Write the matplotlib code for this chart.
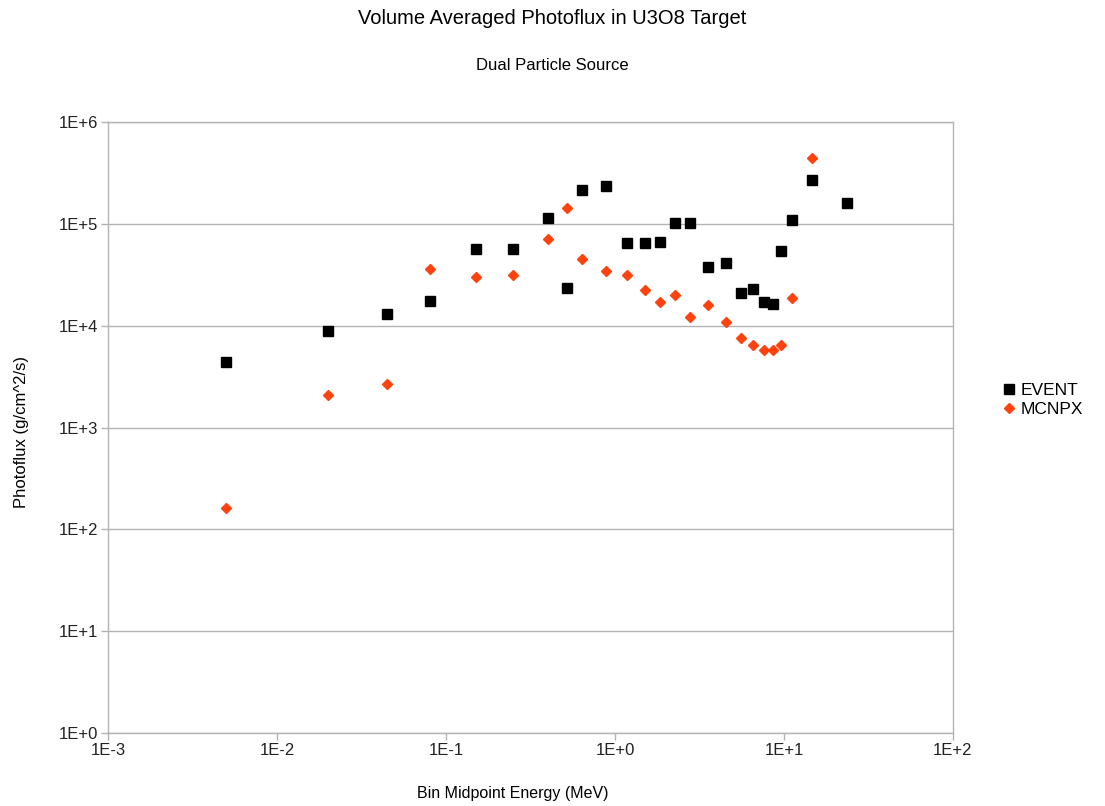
import matplotlib
matplotlib.use("Agg")
import matplotlib.pyplot as plt
from matplotlib.ticker import FixedLocator, FuncFormatter, NullLocator
import numpy as np

plt.rcParams['font.family'] = ['Liberation Sans', 'DejaVu Sans']

# bin midpoint energies (MeV)
event_energy = [0.005, 0.02, 0.045, 0.08, 0.15, 0.25, 0.4, 0.52, 0.64, 0.885,
                1.17, 1.51, 1.85, 2.27, 2.78, 3.53, 4.54, 5.54, 6.56, 7.58,
                8.57, 9.6, 11.1, 14.6, 23.7]
event_flux = [4400, 8800, 13100, 17500, 56900, 56900, 113000, 23700, 213000, 237000,
              64200, 64200, 66100, 102500, 102500, 37900, 41700, 20800, 22800, 17100,
              16200, 53500, 108000, 271000, 161000]

mcnpx_energy = event_energy[:24]
mcnpx_flux = [163, 2070, 2680, 36200, 30200, 31300, 70700, 142700, 44700, 34300,
              31600, 22300, 16900, 19900, 12100, 16100, 10900, 7590, 6470, 5820,
              5820, 6470, 18800, 440000]

x_ticks = [1e-3, 1e-2, 1e-1, 1e0, 1e1, 1e2]
y_ticks = [1e0, 1e1, 1e2, 1e3, 1e4, 1e5, 1e6]

grey = '#b3b3b3'

fig = plt.figure(figsize=(11.05, 8.06), dpi=100)
ax = fig.add_axes([108 / 1105, 73 / 806, 845 / 1105, 611 / 806])

ax.plot(event_energy, event_flux, linestyle='none', marker='s', markersize=7,
        color='black', label='EVENT', zorder=3)
ax.plot(mcnpx_energy, mcnpx_flux, linestyle='none', marker='D', markersize=4.8,
        color='#ff420e', label='MCNPX', zorder=3)

ax.set_xscale('log')
ax.set_yscale('log')
ax.set_xlim(1e-3, 1e2)
ax.set_ylim(1e0, 1e6)

def sci_label(v, pos):
    e = int(round(np.log10(v)))
    return '1E+%d' % e if e >= 0 else '1E%d' % e

ax.xaxis.set_major_locator(FixedLocator(x_ticks))
ax.yaxis.set_major_locator(FixedLocator(y_ticks))
ax.xaxis.set_minor_locator(NullLocator())
ax.yaxis.set_minor_locator(NullLocator())
ax.xaxis.set_major_formatter(FuncFormatter(sci_label))
ax.yaxis.set_major_formatter(FuncFormatter(sci_label))

ax.tick_params(axis='both', direction='out', length=5, width=1, color=grey,
               labelsize=12, labelcolor='#222222', pad=2)
ax.yaxis.grid(True, color=grey, linewidth=1)
ax.set_axisbelow(True)
for side in ['left', 'bottom', 'right', 'top']:
    ax.spines[side].set_color(grey)
    ax.spines[side].set_linewidth(1)

ax.set_xlabel('Bin Midpoint Energy (MeV)', fontsize=11.5)
ax.xaxis.set_label_coords((513 - 108) / 845, -0.086)
ax.set_ylabel('Photoflux (g/cm^2/s)', fontsize=12)
ax.yaxis.set_label_coords(-0.094, 0.493)

fig.text(0.5, 1 - 18 / 806, 'Volume Averaged Photoflux in U3O8 Target',
         ha='center', va='center', fontsize=14.5)
fig.text(0.5, 1 - 65 / 806, 'Dual Particle Source',
         ha='center', va='center', fontsize=12)

fig.legend(loc='center left', bbox_to_anchor=(995 / 1105, 1 - 400 / 806),
           frameon=False, fontsize=12.5, handlelength=0.8, handletextpad=0.3,
           labelspacing=0.2, borderaxespad=0)

fig.savefig('out.png', dpi=100)
